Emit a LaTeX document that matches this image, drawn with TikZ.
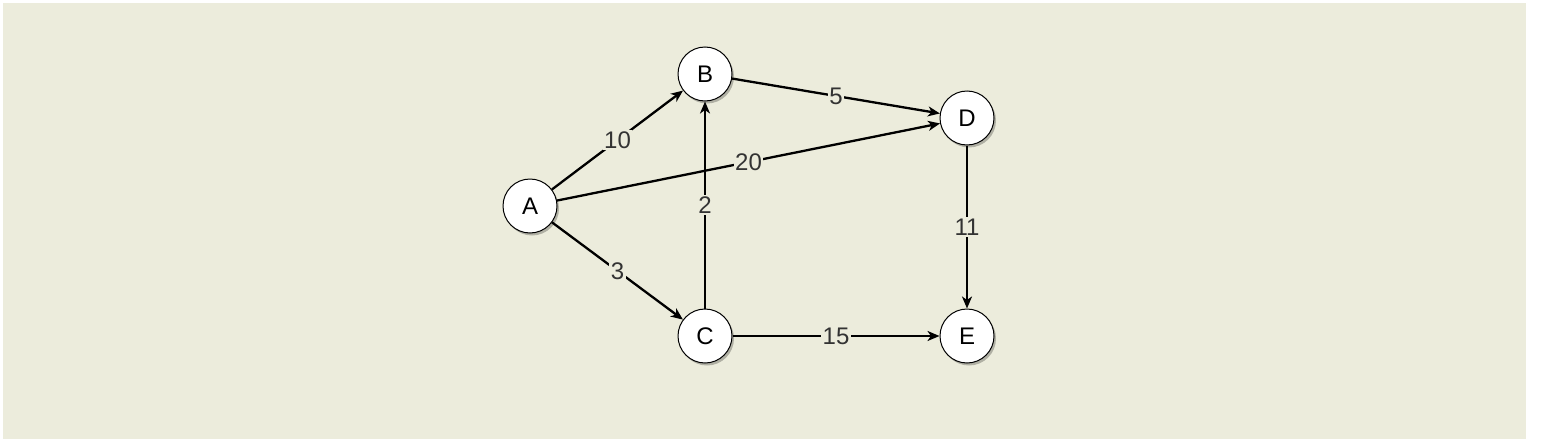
\documentclass[tikz,border=0pt]{standalone}
\usepackage{fontspec}
\setmainfont{Liberation Sans}
\usetikzlibrary{arrows.meta,shadows}
\definecolor{bg}{RGB}{236,236,220}
\definecolor{lbl}{RGB}{51,51,51}
\tikzset{
  vertex/.style={circle, draw=black, line width=1pt, fill=white, minimum size=54pt, inner sep=0pt,
    font=\fontsize{24pt}{24pt}\selectfont,
    drop shadow={shadow xshift=2pt, shadow yshift=-2.5pt, opacity=0.25, fill=black}},
  edge/.style={line width=2.3pt, draw=black, -{Stealth[length=12pt, width=10pt, inset=3.5pt]}},
  wlabel/.style={fill=bg, inner sep=1.5pt, text=lbl, font=\fontsize{24pt}{24pt}\selectfont}
}
\begin{document}
\begin{tikzpicture}[x=1pt, y=-1pt]
\useasboundingbox (0,0) rectangle (1541,447);
\fill[bg] (3,3) rectangle (1526,439);
\node[vertex] (A) at (530,206) {A};
\node[vertex] (B) at (705,74) {B};
\node[vertex] (C) at (705,336) {C};
\node[vertex] (D) at (967,118) {D};
\node[vertex] (E) at (967,336) {E};
\draw[edge] (C) -- node[wlabel] {2} (B);
\draw[edge] (A) -- node[wlabel] {10} (B);
\draw[edge] (A) -- node[wlabel] {20} (D);
\draw[edge] (A) -- node[wlabel] {3} (C);
\draw[edge] (B) -- node[wlabel] {5} (D);
\draw[edge] (D) -- node[wlabel] {11} (E);
\draw[edge] (C) -- node[wlabel] {15} (E);
\end{tikzpicture}
\end{document}
